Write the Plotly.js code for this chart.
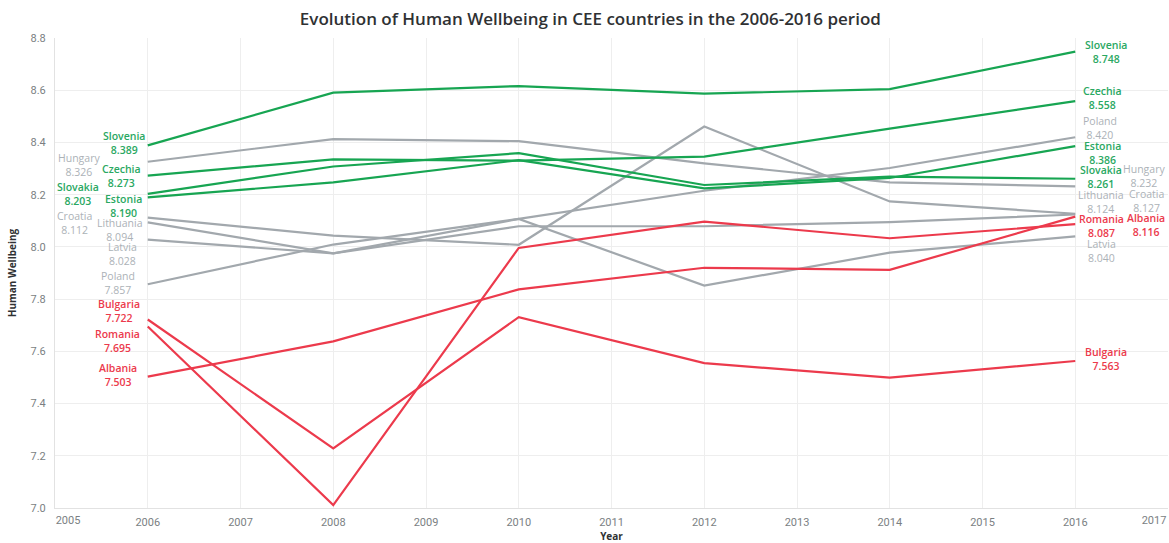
<!DOCTYPE html>
<html>
<head>
<meta charset="utf-8">
<script src="https://cdn.plot.ly/plotly-3.0.1.min.js"></script>
<style>
  html, body { margin: 0; padding: 0; background: #ffffff; }
  #chart { width: 1169px; height: 543px; }
</style>
</head>
<body>
<div id="chart"></div>
<script>
// ---- data ----
const years = [2006, 2008, 2010, 2012, 2014, 2016];
const countries = ["Hungary", "Croatia", "Lithuania", "Latvia", "Poland",
                   "Bulgaria", "Romania", "Albania",
                   "Slovenia", "Czechia", "Slovakia", "Estonia"];
const groups = ["grey", "grey", "grey", "grey", "grey",
                "red", "red", "red",
                "green", "green", "green", "green"];
const hungary   = [8.326, 8.413, 8.405, 8.320, 8.247, 8.232];
const croatia   = [8.112, 8.043, 8.008, 8.461, 8.174, 8.127];
const lithuania = [8.094, 7.975, 8.079, 8.079, 8.095, 8.124];
const latvia    = [8.028, 7.975, 8.107, 7.852, 7.978, 8.040];
const poland    = [7.857, 8.009, 8.107, 8.215, 8.302, 8.420];
const bulgaria  = [7.722, 7.228, 7.731, 7.555, 7.499, 7.563];
const romania   = [7.695, 7.011, 7.996, 8.097, 8.033, 8.087];
const albania   = [7.503, 7.638, 7.837, 7.920, 7.912, 8.116];
const slovenia  = [8.389, 8.591, 8.616, 8.587, 8.604, 8.748];
const czechia   = [8.273, 8.335, 8.330, 8.346, 8.453, 8.558];
const slovakia  = [8.203, 8.308, 8.359, 8.237, 8.269, 8.261];
const estonia   = [8.190, 8.247, 8.332, 8.224, 8.264, 8.386];
const series = [hungary, croatia, lithuania, latvia, poland,
                bulgaria, romania, albania,
                slovenia, czechia, slovakia, estonia];
const xTickYears = [2006, 2007, 2008, 2009, 2010, 2011, 2012, 2013, 2014, 2015, 2016];
const xFirstTick = [2005];
const xLastTick = [2017];
const yTicks = [7.0, 7.2, 7.4, 7.6, 7.8, 8.0, 8.2, 8.4, 8.6, 8.8];

// ---- styles ----
const lineColor  = { grey: "#a2a8ad", red: "#ec3a4c", green: "#17a552" };
const labelColor = { grey: "#acb2b7", red: "#ec3a4c", green: "#2aa862" };
const labelWeight = { grey: 400, red: 600, green: 600 };
// label pixel offsets: [dx right, dy up] of label centre relative to line end point
const startOffsets = {
  Hungary: [-69, -3], Croatia: [-73, -5], Lithuania: [-28, -8], Latvia: [-25, -14],
  Poland: [-30, 1], Bulgaria: [-29, 8], Romania: [-30, -14], Albania: [-30, 2],
  Slovenia: [-24, 2], Czechia: [-26, 0], Slovakia: [-70, 0], Estonia: [-24, -9]
};
const endOffsets = {
  Hungary: [69, 10], Croatia: [71, 13], Lithuania: [26, 13], Latvia: [26, -15],
  Poland: [25, 9], Bulgaria: [31, 2], Romania: [26, -2], Albania: [71, -8],
  Slovenia: [31, 0], Czechia: [27, 3], Slovakia: [26, 2], Estonia: [27, -7]
};

const traces = [];
const annotations = [];
countries.forEach((name, i) => {
  const g = groups[i];
  const vals = series[i];
  traces.push({
    type: "scatter", mode: "lines", name: name,
    x: years, y: vals,
    line: { color: lineColor[g], width: 2.2 },
    showlegend: false,
    hovertemplate: name + "<br>%{x}: %{y:.3f}<extra></extra>"
  });
  const font = { family: "Open Sans, sans-serif", size: 10.5, color: labelColor[g], weight: labelWeight[g] };
  const first = 0, last = vals.length - 1;
  annotations.push({
    x: years[first], y: vals[first], xref: "x", yref: "y",
    text: name + "<br>" + vals[first].toFixed(3),
    showarrow: false, xanchor: "center", yanchor: "middle", align: "center",
    xshift: startOffsets[name][0], yshift: startOffsets[name][1], font: font
  });
  annotations.push({
    x: years[last], y: vals[last], xref: "x", yref: "y",
    text: name + "<br>" + vals[last].toFixed(3),
    showarrow: false, xanchor: "center", yanchor: "middle", align: "center",
    xshift: endOffsets[name][0], yshift: endOffsets[name][1], font: font
  });
});
// empty traces so the edge tick axes are drawn
traces.push({ type: "scatter", x: [], y: [], xaxis: "x2", showlegend: false, hoverinfo: "skip" });
traces.push({ type: "scatter", x: [], y: [], xaxis: "x3", showlegend: false, hoverinfo: "skip" });

const tickFont = { family: "Roboto, sans-serif", size: 11, color: "#7b7f83" };
const xRange = [2005, 2017];
const layout = {
  width: 1169, height: 543,
  margin: { l: 55, r: 1, t: 38, b: 35 },
  paper_bgcolor: "#ffffff", plot_bgcolor: "#ffffff",
  title: {
    text: "Evolution of Human Wellbeing in CEE countries in the 2006-2016 period",
    font: { family: "Open Sans, sans-serif", size: 17, color: "#2f3133", weight: 600 },
    xref: "container", x: 0.505, yref: "container", y: 0.965, yanchor: "middle", xanchor: "center"
  },
  xaxis: {
    range: xRange, tickmode: "array", tickvals: xTickYears, ticktext: xTickYears.map(String),
    showgrid: true, gridcolor: "#eeeeee", gridwidth: 1, zeroline: false,
    showline: true, linecolor: "#e2e2e2", linewidth: 1, ticks: "",
    tickfont: tickFont, ticklabelstandoff: 4,
    title: { text: "Year", font: { family: "Open Sans, sans-serif", size: 10, color: "#2f3133", weight: 700 }, standoff: 8 },
    fixedrange: true
  },
  xaxis2: {
    range: xRange, overlaying: "x", side: "bottom", anchor: "y",
    tickmode: "array", tickvals: xFirstTick, ticktext: xFirstTick.map(String),
    showgrid: true, gridcolor: "#eeeeee", zeroline: false, showline: false, ticks: "",
    tickfont: tickFont, ticklabelshift: 13, ticklabelstandoff: 4, fixedrange: true
  },
  xaxis3: {
    range: xRange, overlaying: "x", side: "bottom", anchor: "y",
    tickmode: "array", tickvals: xLastTick, ticktext: xLastTick.map(String),
    showgrid: true, gridcolor: "#eeeeee", zeroline: false, showline: false, ticks: "",
    tickfont: tickFont, ticklabelshift: -14, ticklabelstandoff: 4, fixedrange: true
  },
  yaxis: {
    range: [7.0, 8.8], tickmode: "array", tickvals: yTicks, ticktext: yTicks.map(v => v.toFixed(1)),
    showgrid: true, gridcolor: "#eeeeee", gridwidth: 1, zeroline: false,
    showline: true, linecolor: "#e2e2e2", linewidth: 1, ticks: "",
    tickfont: tickFont, ticklabelstandoff: 6,
    title: { text: "Human Wellbeing", font: { family: "Open Sans, sans-serif", size: 10, color: "#2f3133", weight: 700 }, standoff: 12 },
    fixedrange: true
  },
  annotations: annotations,
  hovermode: "closest"
};

Plotly.newPlot("chart", traces, layout, { displayModeBar: false, staticPlot: false });
</script>
</body>
</html>
